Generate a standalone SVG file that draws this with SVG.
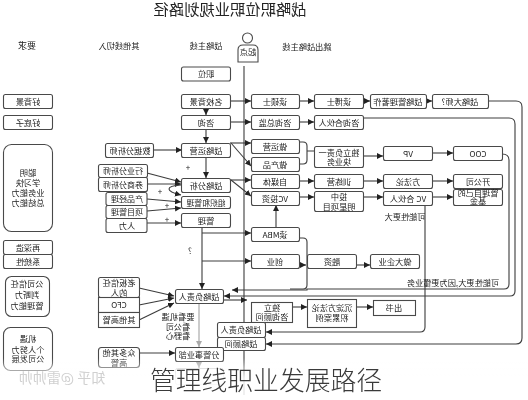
<svg xmlns="http://www.w3.org/2000/svg" width="528" height="400" viewBox="0 0 528 400">
<style>
text{font-family:"Noto Sans CJK SC","Noto Sans",sans-serif;text-anchor:middle;fill:#222;font-size:8.2px}
.n{fill:#fff;stroke:#4a4a4a;stroke-width:1.1}
.l{fill:none;stroke:#3c3c3c;stroke-width:1.1}
.a{fill:none;stroke:#3c3c3c;stroke-width:1.1;marker-end:url(#ah)}
.f{fill:none;stroke:#999;stroke-width:1;marker-end:url(#ag)}
.cap{font-size:25.8px;font-weight:300;fill:#3a3a3a}
.wm{font-size:14px;fill:#d0d0d0}
</style>
<defs>
<marker id="ah" markerUnits="userSpaceOnUse" markerWidth="7" markerHeight="7" refX="6" refY="3" orient="auto"><path d="M0,0L6,3L0,6Z" fill="#222"/></marker>
<marker id="ag" markerUnits="userSpaceOnUse" markerWidth="7" markerHeight="7" refX="6" refY="3" orient="auto"><path d="M0,0L6,3L0,6Z" fill="#aaa"/></marker>
<linearGradient id="fade" x1="0" y1="0" x2="0" y2="1"><stop offset="0" stop-color="#fff" stop-opacity="0"/><stop offset="1" stop-color="#fff" stop-opacity=".85"/></linearGradient>
<filter id="soft" x="-2%" y="-2%" width="104%" height="104%"><feGaussianBlur stdDeviation="0.4"/></filter>
</defs>
<rect width="528" height="400" fill="#fff"/>
<g filter="url(#soft)">
<text transform="translate(230,14.500) scale(-1,1)" style="font-size:15.3px">战略职位职业规划路径</text>
<g id="headers" style="font-size:8.3px">
<text transform="translate(27,49) scale(-1,1)" style="font-size:9px">要求</text>
<text transform="translate(119,49) scale(-1,1)">其他线切入</text>
<text transform="translate(206,49) scale(-1,1)">战略主线</text>
<text transform="translate(307,50) scale(-1,1)">跳出战略主线</text>
</g>
<g id="connectors">
<path class="l" d="M244,66V395"/>
<path class="a" d="M230,101H251"/><path class="a" d="M230,122H251"/>
<path class="a" d="M230,143H251"/><path class="a" d="M231,143L251,166"/>
<path class="a" d="M230,180H251"/><path class="a" d="M231,180L251,196"/>
<path class="a" d="M206,108V115"/><path class="a" d="M206,129V143"/><path class="a" d="M206,157V178"/>
<path class="a" d="M299,101H314"/><path class="a" d="M363,101H370"/><path class="a" d="M426,101H432"/>
<path class="a" d="M299,122H314"/>
<path class="l" d="M300,142H303Q307,142 307,146V160Q307,164 303,164H300M307,151H314"/>
<path class="a" d="M363,156H383"/><path class="a" d="M432,153H453"/>
<path class="a" d="M300,181H314"/><path class="a" d="M363,181H383"/><path class="a" d="M432,181H453"/>
<path class="a" d="M300,197H314"/><path class="a" d="M363,197H383"/><path class="a" d="M432,197H453"/>
<path class="a" d="M276,227V205"/>
<path class="a" d="M202,227V289"/><path class="a" d="M202,233H251"/><path class="a" d="M202,261H251"/>
<path class="a" d="M299,265H306"/><path class="a" d="M356,265H370"/>
<path class="a" d="M292,307H307"/><path class="a" d="M356,307H373"/>
<path class="a" d="M153,150H182"/>
<path class="a" d="M147,173L181,182"/><path class="a" d="M147,184L181,184"/>
<path class="a" d="M147,199L181,202"/><path class="a" d="M147,211L181,208"/><path class="a" d="M147,223H181"/>
<path class="a" d="M181,185C165,186 165,191 181,195"/>
<path class="a" d="M488,101H516Q522,101 522,107V338Q522,344 516,344H266"/>
<path class="a" d="M425,205V327Q425,332 420,332H266"/>
<path class="a" d="M502,154Q509,154 509,160V284Q509,289 504,289H307V290H232"/>
<path class="a" d="M363,118H509Q515,118 515,124V291Q515,296 510,296H224"/>
<path class="l" d="M300,238H303Q307,238 307,242V285Q307,289 303,289H290"/>
<path class="a" d="M223,300H247"/>
<path class="a" d="M139,288L174,296"/><path class="a" d="M139,305L174,298"/><path class="a" d="M139,320L174,303"/>
<path class="a" d="M139,353H175"/>
<path class="f" d="M199,303V347"/>
<path class="f" d="M199,361V368"/>
</g>
<g id="person"><circle cx="247.500" cy="38" r="5" class="n"/><path class="n" d="M238,62V50Q238,45 243,45H253Q258,45 258,50V62Z"/><text transform="translate(248,55) scale(-1,1)">起点</text></g>
<g id="n-zw"><rect class="n" x="181.500" y="67" width="49" height="14" rx="2"/><text transform="translate(206,77) scale(-1,1)">职位</text></g>
<g id="n-mx"><rect class="n" x="181.500" y="94.500" width="49" height="14" rx="2"/><text transform="translate(206,104.500) scale(-1,1)">名校背景</text></g>
<g id="n-zx"><rect class="n" x="181.500" y="115.500" width="49" height="14" rx="2"/><text transform="translate(206,125.500) scale(-1,1)">咨询</text></g>
<g id="n-zlyy"><rect class="n" x="181.500" y="143.500" width="49" height="14" rx="2"/><text transform="translate(206,153.500) scale(-1,1)">战略运营</text></g>
<g id="n-zlfx"><rect class="n" x="181.500" y="178.500" width="49" height="14" rx="2"/><text transform="translate(206,188.500) scale(-1,1)">战略分析</text></g>
<g id="n-zzgl"><rect class="n" x="181.500" y="196.500" width="49" height="12" rx="2"/><text transform="translate(206,205.500) scale(-1,1)" style="font-size:7.800px">组织和管理</text></g>
<g id="n-gl"><rect class="n" x="181.500" y="213.500" width="49" height="14" rx="2"/><text transform="translate(206,223.500) scale(-1,1)">管理</text></g>
<g id="n-sjfx"><rect class="n" x="105.500" y="143.500" width="48" height="14" rx="2"/><text transform="translate(130,153.500) scale(-1,1)">数据分析师</text></g>
<g id="n-hyfx"><rect class="n" x="98.500" y="164.500" width="49" height="13" rx="2"/><text transform="translate(123,174) scale(-1,1)" style="font-size:8px">行业分析师</text></g>
<g id="n-qsfx"><rect class="n" x="98.500" y="177.500" width="49" height="14" rx="2"/><text transform="translate(123,187.500) scale(-1,1)" style="font-size:8px">券商分析师</text></g>
<g id="n-cpjl"><rect class="n" x="106" y="192.500" width="41" height="13" rx="2"/><text transform="translate(127,202) scale(-1,1)" style="font-size:8px">产品经理</text></g>
<g id="n-xmgl"><rect class="n" x="106" y="205.500" width="41" height="13" rx="2"/><text transform="translate(127,215) scale(-1,1)" style="font-size:8px">项目管理</text></g>
<g id="n-rl"><rect class="n" x="106" y="218.500" width="41" height="14" rx="2"/><text transform="translate(127,229) scale(-1,1)">人力</text></g>
<g id="n-dss"><rect class="n" x="251.500" y="94.500" width="48" height="14" rx="2"/><text transform="translate(275,104.500) scale(-1,1)">读硕士</text></g>
<g id="n-zxzj"><rect class="n" x="251.500" y="115.500" width="48" height="14" rx="2"/><text transform="translate(275,125.500) scale(-1,1)">咨询总监</text></g>
<g id="n-zyy"><rect class="n" x="251.500" y="139.500" width="48" height="14" rx="2"/><text transform="translate(275,149.500) scale(-1,1)">做运营</text></g>
<g id="n-zcp"><rect class="n" x="251.500" y="157.500" width="48" height="14" rx="2"/><text transform="translate(275,167.500) scale(-1,1)">做产品</text></g>
<g id="n-zmt"><rect class="n" x="251.500" y="174.500" width="48" height="14" rx="2"/><text transform="translate(275,184.500) scale(-1,1)">自媒体</text></g>
<g id="n-vctz"><rect class="n" x="251.500" y="191.500" width="48" height="14" rx="2"/><text transform="translate(275,201.500) scale(-1,1)">VC投资</text></g>
<g id="n-mba"><rect class="n" x="251.500" y="227.500" width="48" height="14" rx="2"/><text transform="translate(275,237.500) scale(-1,1)">读MBA</text></g>
<g id="n-cy"><rect class="n" x="251.500" y="254.500" width="48" height="14" rx="2"/><text transform="translate(275,264.500) scale(-1,1)">创业</text></g>
<g id="n-dlzx"><rect class="n" x="251.500" y="302.500" width="41" height="20"/><text transform="translate(272,311) scale(-1,1)"><tspan x="0">独立</tspan><tspan x="0" dy="9">咨询顾问</tspan></text></g>
<g id="n-dbs"><rect class="n" x="314.500" y="94.500" width="49" height="14" rx="2"/><text transform="translate(339,104.500) scale(-1,1)">读博士</text></g>
<g id="n-zxhhr"><rect class="n" x="314.500" y="115.500" width="49" height="14" rx="2"/><text transform="translate(339,125.500) scale(-1,1)">咨询合伙人</text></g>
<g id="n-dlfz"><rect class="n" x="314.500" y="146.500" width="49" height="21" rx="2"/><text transform="translate(339,155.500) scale(-1,1)"><tspan x="0">独立负责一</tspan><tspan x="0" dy="9.500">块业务</tspan></text></g>
<g id="n-xly"><rect class="n" x="314.500" y="174.500" width="49" height="14" rx="2"/><text transform="translate(339,184.500) scale(-1,1)">训练营</text></g>
<g id="n-tz"><rect class="n" x="314.500" y="191.500" width="49" height="20" rx="2"/><text transform="translate(339,200) scale(-1,1)"><tspan x="0">投中</tspan><tspan x="0" dy="9.500">明星项目</tspan></text></g>
<g id="n-rz"><rect class="n" x="307.500" y="254.500" width="49" height="14" rx="2"/><text transform="translate(332,264.500) scale(-1,1)">融资</text></g>
<g id="n-cd"><rect class="n" x="307.500" y="299.500" width="49" height="28"/><text transform="translate(332,311) scale(-1,1)"><tspan x="0">沉淀方法论</tspan><tspan x="0" dy="10">积累案例</tspan></text></g>
<g id="n-zz"><rect class="n" x="370.500" y="94.500" width="56" height="14" rx="2"/><text transform="translate(398,104.500) scale(-1,1)">战略管理著作</text></g>
<g id="n-vp"><rect class="n" x="383.500" y="146.500" width="49" height="14" rx="2"/><text transform="translate(408,156.500) scale(-1,1)">VP</text></g>
<g id="n-ffl"><rect class="n" x="383.500" y="174.500" width="49" height="14" rx="2"/><text transform="translate(408,184.500) scale(-1,1)">方法论</text></g>
<g id="n-vchh"><rect class="n" x="383.500" y="191.500" width="49" height="14" rx="2"/><text transform="translate(408,201.500) scale(-1,1)">VC 合伙人</text></g>
<g id="n-zdqy"><rect class="n" x="370.500" y="254.500" width="49" height="14" rx="2"/><text transform="translate(395,264.500) scale(-1,1)">做大企业</text></g>
<g id="n-cs"><rect class="n" x="373.500" y="300.500" width="42" height="15"/><text transform="translate(394,311) scale(-1,1)">出书</text></g>
<g id="n-ds"><rect class="n" x="432.500" y="94.500" width="56" height="14" rx="2"/><text transform="translate(460,104.500) scale(-1,1)">战略大师?</text></g>
<g id="n-coo"><rect class="n" x="453.500" y="146.500" width="49" height="14" rx="2"/><text transform="translate(478,156.500) scale(-1,1)">COO</text></g>
<g id="n-kgs"><rect class="n" x="453.500" y="174.500" width="49" height="14" rx="2"/><text transform="translate(478,184.500) scale(-1,1)">开公司</text></g>
<g id="n-jj"><rect class="n" x="453.500" y="189.500" width="49" height="16" rx="2"/><text transform="translate(478,196) scale(-1,1)"><tspan x="0">管理自己的</tspan><tspan x="0" dy="8">基金</tspan></text></g>
<g id="n-zlfz"><rect class="n" x="175.500" y="289.500" width="48" height="14" rx="2"/><text transform="translate(199,299.500) scale(-1,1)">战略负责人</text></g>
<g id="n-zlfz2"><rect class="n" x="217.500" y="322.500" width="48" height="15" rx="2"/><text transform="translate(241,333) scale(-1,1)">战略负责人</text></g>
<g id="n-zlgw"><rect class="n" x="217.500" y="337.500" width="48" height="13" rx="2"/><text transform="translate(241,347) scale(-1,1)">战略顾问</text></g>
<g id="n-fg"><rect class="n" x="175.500" y="347.500" width="48" height="14" rx="2"/><text transform="translate(199,357.500) scale(-1,1)">分管事业部</text></g>
<g id="n-lb"><rect class="n" x="98.500" y="277.500" width="41" height="20" rx="2"/><text transform="translate(119,286) scale(-1,1)"><tspan x="0">老板信任</tspan><tspan x="0" dy="9.500">的人</tspan></text></g>
<g id="n-cfo"><rect class="n" x="98.500" y="297.500" width="41" height="15"/><text transform="translate(119,308) scale(-1,1)">CFO</text></g>
<g id="n-qtgg"><rect class="n" x="98.500" y="312.500" width="41" height="15"/><text transform="translate(119,323) scale(-1,1)">其他高管</text></g>
<g id="n-zd"><rect class="n" x="98.500" y="347.500" width="41" height="20" rx="3"/><text transform="translate(119,356) scale(-1,1)"><tspan x="0">众多其他</tspan><tspan x="0" dy="9.500">高管</tspan></text></g>
<g id="r-hbj"><rect class="n" x="3.500" y="94.500" width="49" height="14" rx="2"/><text transform="translate(28,104.500) scale(-1,1)">好背景</text></g>
<g id="r-hdz"><rect class="n" x="3.500" y="115.500" width="49" height="14" rx="2"/><text transform="translate(28,125.500) scale(-1,1)">好底子</text></g>
<g id="r-cm"><rect class="n" x="3.500" y="144.500" width="49" height="87" rx="8"/><text transform="translate(28,176) scale(-1,1)"><tspan x="0">聪明</tspan><tspan x="0" dy="10">学习快</tspan><tspan x="0" dy="10">业务能力</tspan><tspan x="0" dy="9.500">总结能力</tspan></text></g>
<g id="r-zsz"><rect class="n" x="3.500" y="240.500" width="49" height="14" rx="2"/><text transform="translate(28,250.500) scale(-1,1)">再深造</text></g>
<g id="r-xtx"><rect class="n" x="3.500" y="254.500" width="49" height="14" rx="2"/><text transform="translate(28,264.500) scale(-1,1)">系统性</text></g>
<g id="r-gsxr"><rect class="n" x="5.500" y="276.500" width="44" height="40" rx="6"/><text transform="translate(27,287) scale(-1,1)"><tspan x="0">公司信任</tspan><tspan x="0" dy="11">判断力</tspan><tspan x="0" dy="11">管理能力</tspan></text></g>
<g id="r-jy"><rect class="n" x="3.500" y="327.500" width="49" height="43" rx="7"/><text transform="translate(28,342) scale(-1,1)"><tspan x="0">机遇</tspan><tspan x="0" dy="10.500">个人努力</tspan><tspan x="0" dy="9">公司发展</tspan></text></g>
<g id="notes">
<text transform="translate(405,220) scale(-1,1)">可能性更大</text>
<text transform="translate(453,286) scale(-1,1)">可能性更大,因为更懂业务</text>
<text transform="translate(178,320) scale(-1,1)"><tspan x="0">要看机遇</tspan><tspan x="0" dy="10">看公司</tspan><tspan x="0" dy="9">看野心</tspan></text>
<text transform="translate(188,171) scale(-1,1)">+</text>
<text transform="translate(160,195) scale(-1,1)">+</text>
<text transform="translate(167,209) scale(-1,1)">+</text>
<text transform="translate(167,223) scale(-1,1)">+</text>
<text transform="translate(190,254) scale(-1,1)">?</text>
</g>
<rect x="175.500" y="368.500" width="48" height="16" rx="2" fill="none" stroke="#ccc"/>
</g>
<rect x="0" y="358" width="528" height="20" fill="url(#fade)"/>
<rect x="0" y="378" width="528" height="22" fill="#fff" fill-opacity=".85"/>
<text class="wm" transform="translate(62,383) scale(-1,1)">知乎 @雷帅帅</text>
<text class="cap" x="266" y="390">管理线职业发展路径</text>
</svg>
